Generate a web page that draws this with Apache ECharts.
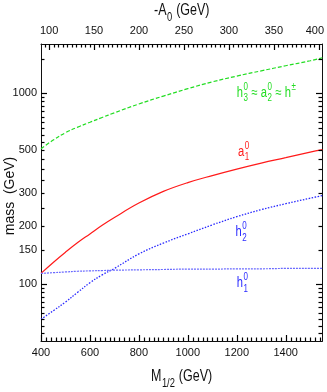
<!DOCTYPE html>
<html>
<head>
<meta charset="utf-8">
<script src="https://cdn.jsdelivr.net/npm/echarts@6/dist/echarts.min.js"></script>
<style>
html, body { margin: 0; padding: 0; background: #fff; }
#chart { width: 327px; height: 392px; }
</style>
</head>
<body>
<div id="chart"></div>
<script>
const FONT = '"Liberation Sans", Arial, sans-serif';
const AXIS = '#111';

// M_1/2 (GeV) sample points shared by all curves
const m12 = [400, 450, 500, 550, 600, 650, 700, 800, 900, 1000, 1100, 1200, 1300, 1400, 1500, 1550];
// masses (GeV)
const h3Mass = [509, 565, 617, 660, 700, 742, 785, 873, 960, 1050, 1140, 1222, 1302, 1385, 1470, 1525];
const a1Mass = [113, 129, 146, 164, 182, 202, 222, 264, 304, 338, 368, 398, 428, 457, 488, 503];
const h2Mass = [65, 72, 80, 90, 101, 111, 120, 143, 163, 182, 203, 224, 244, 262, 280, 289];
const h1Mass = [113, 114, 115, 116, 116.5, 117, 117.5, 118, 118.5, 119, 119, 119.5, 119.5, 120, 120, 120];

// tick labels
const m12Labels = [400, 600, 800, 1000, 1200, 1400];
const a0Labels = [100, 150, 200, 250, 300, 350, 400];
const massLabels = [100, 150, 200, 300, 500, 1000];
const massMajor = [100, 1000];
const massMinor = [55, 60, 65, 70, 75, 80, 85, 90, 95, 150, 200, 250, 300, 350, 400, 450, 500,
  550, 600, 650, 700, 750, 800, 850, 900, 950, 1500];

function range(a, b, step) {
  const out = [];
  for (let v = a; v <= b + 1e-9; v += step) out.push(v);
  return out;
}
const m12Minor = range(420, 1540, 20).filter(v => m12Labels.indexOf(v) < 0);
const a0Minor = range(95, 400, 5).filter(v => a0Labels.indexOf(v) < 0);

const X_MIN = 400, X_MAX = 1550, A0_MIN = 91, A0_MAX = 404, Y_MIN = 50, Y_MAX = 1800;

function pairs(ys) { return m12.map((m, i) => [m, ys[i]]); }

function frameAxis(base, label) {
  return Object.assign({}, base, {
    splitLine: { show: false },
    axisLine: { show: true, onZero: false, lineStyle: { color: AXIS, width: 1 } },
    axisTick: { show: false },
    axisLabel: label
  });
}

const chart = echarts.init(document.getElementById('chart'), null, { renderer: 'canvas' });
const plain = v => String(v);

chart.setOption({
  animation: false,
  backgroundColor: '#fff',
  grid: { left: 41, right: 1, top: 44, bottom: 51 },
  xAxis: [
    frameAxis({ type: 'value', position: 'bottom', min: X_MIN, max: X_MAX },
      { fontFamily: FONT, fontSize: 11, color: '#111', margin: 6, customValues: m12Labels, formatter: plain }),
    frameAxis({ type: 'value', position: 'top', min: A0_MIN, max: A0_MAX }, {
      fontFamily: FONT, fontSize: 11, color: '#111', margin: 8, customValues: a0Labels,
      formatter: v => v === 400 ? '{r|400}' : String(v),
      rich: { r: { fontFamily: FONT, fontSize: 11, color: '#111', padding: [0, 8, 0, 0] } }
    })
  ],
  yAxis: [
    frameAxis({ type: 'log', logBase: 10, position: 'left', min: Y_MIN, max: Y_MAX },
      { fontFamily: FONT, fontSize: 11, color: '#111', margin: 4, customValues: massLabels, formatter: plain }),
    frameAxis({ type: 'log', logBase: 10, position: 'right', min: Y_MIN, max: Y_MAX }, { show: false })
  ],
  series: [
    { name: 'h3', type: 'line', data: pairs(h3Mass), smooth: 0.4, showSymbol: false, silent: true,
      lineStyle: { color: '#22dd22', width: 1.2, type: [4, 2] } },
    { name: 'a1', type: 'line', data: pairs(a1Mass), smooth: 0.4, showSymbol: false, silent: true,
      lineStyle: { color: '#ff1a1a', width: 1.2 } },
    { name: 'h2', type: 'line', data: pairs(h2Mass), smooth: 0.4, showSymbol: false, silent: true,
      lineStyle: { color: '#2a2aff', width: 1.3, type: [1.5, 1.5] } },
    { name: 'h1', type: 'line', data: pairs(h1Mass), smooth: 0.4, showSymbol: false, silent: true,
      lineStyle: { color: '#6a6aff', width: 1.2, type: [2, 1] } }
  ]
});

function px(xAxisIndex, x, y) { return chart.convertToPixel({ xAxisIndex: xAxisIndex, yAxisIndex: 0 }, [x, y]); }

// inward tick marks, positioned through the axes' own scales
function ticks(values, side, len) {
  return values.map(v => {
    let p, dx = 0, dy = 0;
    if (side === 'bottom') { p = px(0, v, Y_MIN); dy = -len; }
    else if (side === 'top') { p = px(1, v, Y_MAX); dy = len; }
    else if (side === 'left') { p = px(0, X_MIN, v); dx = len; }
    else { p = px(0, X_MAX, v); dx = -len; }
    const horiz = side === 'bottom' || side === 'top';
    const x = horiz ? Math.round(p[0]) + 0.5 : Math.round(p[0]);
    const y = horiz ? Math.round(p[1]) : Math.round(p[1]) + 0.5;
    return { type: 'line', silent: true, z: 100,
      shape: { x1: x, y1: y, x2: x + dx, y2: y + dy },
      style: { stroke: '#000', lineWidth: 1.2 } };
  });
}

// text with stacked super/subscripts, squeezed horizontally like the original font
const ctx = document.createElement('canvas').getContext('2d');
function textW(s, size) { ctx.font = size + 'px ' + FONT; return ctx.measureText(s).width; }
function scriptText(parts, x, y, size, color, sx) {
  const small = Math.round(size * 0.72);
  const els = [];
  let cx = x;
  function piece(t, ppx, ppy, fs) {
    els.push({ type: 'text', x: ppx, y: ppy, scaleX: sx, silent: true,
      style: { text: t, font: fs + 'px ' + FONT, fill: color, verticalAlign: 'middle' } });
  }
  parts.forEach(p => {
    piece(p.t, cx, y, size);
    cx += textW(p.t, size) * sx;
    let w = 0;
    if (p.sup) { piece(p.sup, cx + 0.5, y - size * 0.42, small); w = Math.max(w, textW(p.sup, small) * sx); }
    if (p.sub) { piece(p.sub, cx + 0.5, y + size * 0.4, small); w = Math.max(w, textW(p.sub, small) * sx); }
    cx += w ? w + 1 : 0;
  });
  return els;
}

const pH3 = px(0, 1200, 1000), pA1 = px(0, 1205, 490), pH2 = px(0, 1195, 185), pH1 = px(0, 1200, 100);
const elements = [].concat(
  ticks(m12Labels, 'bottom', 6), ticks(m12Minor, 'bottom', 3.5),
  ticks(a0Labels, 'top', 6), ticks(a0Minor, 'top', 3.5),
  ticks(massMajor, 'left', 6), ticks(massMinor, 'left', 3.5),
  ticks(massMajor, 'right', 6), ticks(massMinor, 'right', 3.5),
  scriptText([{ t: '-A', sub: '0' }, { t: ' (GeV)' }], 154, 11, 16, '#111', 0.78),
  scriptText([{ t: 'M', sub: '1/2' }, { t: ' (GeV)' }], 151, 377, 16, '#111', 0.78),
  scriptText([{ t: 'h', sup: '0', sub: '3' }, { t: ' \u2248 a', sup: '0', sub: '2' }, { t: ' \u2248 h', sup: '\u00b1' }],
    pH3[0], pH3[1], 14, '#22dd22', 0.8),
  scriptText([{ t: 'a', sup: '0', sub: '1' }], pA1[0], pA1[1], 14, '#ff1a1a', 0.8),
  scriptText([{ t: 'h', sup: '0', sub: '2' }], pH2[0], pH2[1], 14, '#2a2aff', 0.8),
  scriptText([{ t: 'h', sup: '0', sub: '1' }], pH1[0], pH1[1], 14, '#2a2aff', 0.8),
  [{ type: 'text', x: 10, y: 196, rotation: Math.PI / 2, silent: true,
     style: { text: 'mass  (GeV)', font: '14px ' + FONT, fill: '#111', align: 'center', verticalAlign: 'middle' } }]
);
chart.setOption({ graphic: { elements: elements } });
</script>
</body>
</html>
